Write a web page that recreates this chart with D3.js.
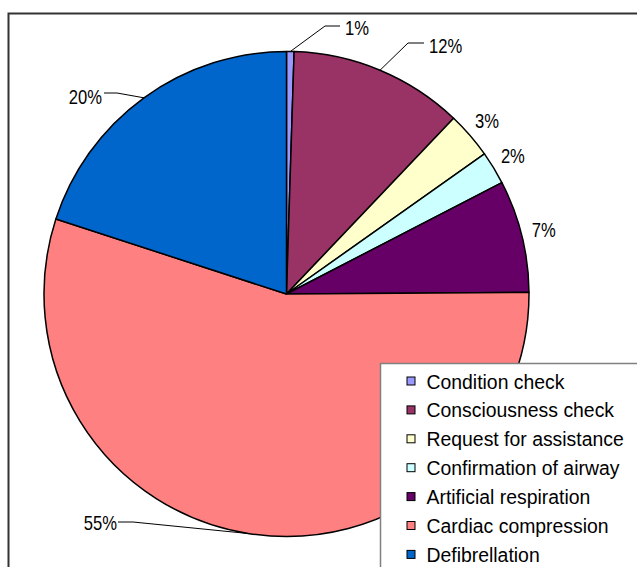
<!DOCTYPE html>
<html>
<head>
<meta charset="utf-8">
<script src="https://cdn.jsdelivr.net/npm/d3@7/dist/d3.min.js"></script>
<style>
  html, body { margin: 0; padding: 0; background: #fff; }
  svg { display: block; }
</style>
</head>
<body>
<svg id="chart" width="637" height="567"></svg>
<script>
// CPR steps: share of time/actions per step (percent)
const categories = [
  "Condition check",
  "Consciousness check",
  "Request for assistance",
  "Confirmation of airway",
  "Artificial respiration",
  "Cardiac compression",
  "Defibrellation"
];
const shares = [0.5, 11.6, 3.1, 2.2, 7.49, 55.11, 20.0];
const colors = ["#9999FF", "#993366", "#FFFFCC", "#CCFFFF", "#660066", "#FF8080", "#0066CC"];

const W = 637, H = 567;
const cx = 286.5, cy = 294, R = 242.5;

const svg = d3.select("#chart");

// outer chart frame
svg.append("rect")
  .attr("x", 8.5).attr("y", 13.5)
  .attr("width", 700).attr("height", 700)
  .attr("fill", "#fff")
  .attr("stroke", "#333").attr("stroke-width", 2);

const pie = d3.pie().sort(null).value(d => d)(shares);
const arc = d3.arc().innerRadius(0).outerRadius(R);

const g = svg.append("g").attr("transform", `translate(${cx},${cy})`);

g.selectAll("path.slice")
  .data(pie)
  .join("path")
  .attr("class", "slice")
  .attr("d", arc)
  .attr("fill", (d, i) => colors[i])
  .attr("stroke", "#000")
  .attr("stroke-width", 1.5)
  .attr("stroke-linejoin", "round");

// percentage labels (condensed glyphs)
const fmt = v => Math.round(v) + "%";
const mid = d => (d.startAngle + d.endAngle) / 2;
const onArc = (a, r) => [Math.sin(a) * r, -Math.cos(a) * r];
const squeeze = 0.83;

// labels pulled away from the pie, with leader lines (elbow, end of line, text anchor)
const moved = {
  0: { elbow: [325, 26], end: [340, 26], text: [345, 35], anchor: "start" },
  1: { elbow: [408, 43], end: [424, 43], text: [429, 53], anchor: "start" },
  5: { elbow: [133, 522], end: [118, 522], text: [117, 530], anchor: "end" },
  6: { elbow: [117, 93], end: [104, 93], text: [102, 104], anchor: "end" }
};

const labels = svg.append("g")
  .attr("font-family", "'Liberation Sans', Arial, sans-serif")
  .attr("font-size", 20)
  .attr("fill", "#000");

function putLabel(x, y, anchor, str) {
  labels.append("text")
    .attr("transform", `translate(${x},${y}) scale(${squeeze},1)`)
    .attr("text-anchor", anchor)
    .text(str);
}

pie.forEach((d, i) => {
  const a = mid(d);
  const m = moved[i];
  if (m) {
    const p = onArc(a, R);
    labels.append("polyline")
      .attr("points", [[cx + p[0], cy + p[1]], m.elbow, m.end].map(q => q.join(",")).join(" "))
      .attr("fill", "none")
      .attr("stroke", "#000")
      .attr("stroke-width", 1);
    putLabel(m.text[0], m.text[1], m.anchor, fmt(d.data));
  } else {
    const p = onArc(a, 265);
    putLabel(cx + p[0], cy + p[1] + 7, "middle", fmt(d.data));
  }
});

// legend box
const lg = svg.append("g").attr("transform", "translate(380.5,363.5)");
lg.append("rect")
  .attr("width", 300).attr("height", 300)
  .attr("fill", "#fff")
  .attr("stroke", "#808080").attr("stroke-width", 1.5);

const rows = lg.selectAll("g.item")
  .data(categories)
  .join("g")
  .attr("class", "item")
  .attr("transform", (d, i) => `translate(0,${18 + i * 28.9})`);

rows.append("rect")
  .attr("x", 26.5).attr("y", -4.5)
  .attr("width", 8).attr("height", 8)
  .attr("fill", (d, i) => colors[i])
  .attr("stroke", "#000").attr("stroke-width", 1);

rows.append("text")
  .attr("x", 46).attr("y", 7)
  .attr("font-family", "'Liberation Sans', Arial, sans-serif")
  .attr("font-size", 19.4)
  .attr("fill", "#000")
  .text(d => d);
</script>
</body>
</html>
